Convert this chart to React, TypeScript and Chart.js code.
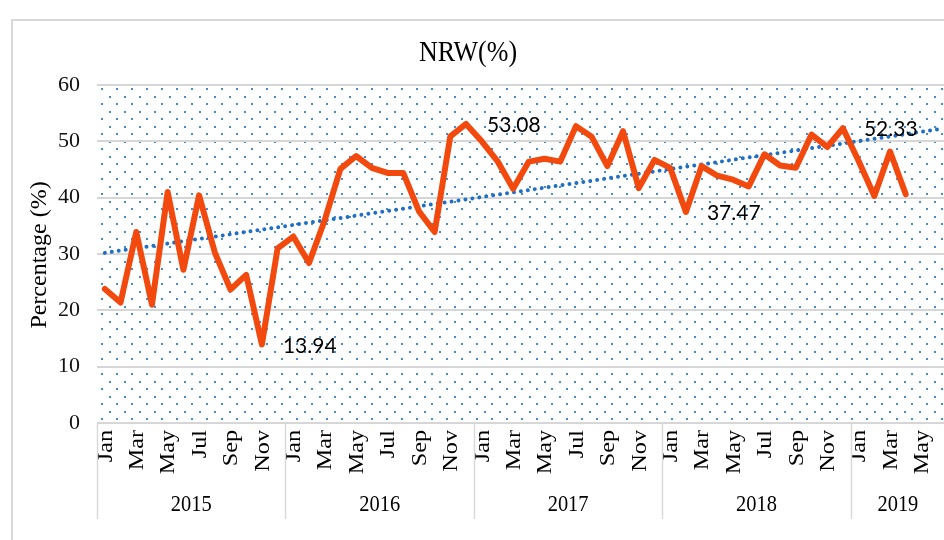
import React, { useEffect, useRef } from 'react';
import { Chart, registerables } from 'chart.js';

Chart.register(...registerables);

// ---- data ----
const months = ['Jan', 'Feb', 'Mar', 'Apr', 'May', 'Jun', 'Jul', 'Aug', 'Sep', 'Oct', 'Nov', 'Dec'];
const years = ['2015', '2016', '2017', '2018', '2019'];
const monthsOnAxisPerYear = [12, 12, 12, 12, 6];

const nrw2015 = [23.8, 21.4, 33.9, 21.0, 41.0, 27.2, 40.4, 30.3, 23.7, 26.3, 13.94, 31.0];
const nrw2016 = [33.1, 28.4, 36.0, 45.1, 47.4, 45.3, 44.4, 44.4, 37.6, 33.9, 50.9, 53.08];
const nrw2017 = [50.0, 46.5, 41.6, 46.4, 46.9, 46.4, 52.7, 50.8, 45.6, 51.8, 41.7, 46.7];
const nrw2018 = [45.3, 37.47, 45.6, 43.9, 43.2, 42.0, 47.7, 45.7, 45.3, 51.2, 49.0, 52.33];
const nrw2019 = [46.5, 40.3, 48.2, 40.6];

const labelledValues = [13.94, 53.08, 37.47, 52.33];
const trendStart = 30.2;
const trendEnd = 52.1;

const chartTitle = 'NRW(%)';
const yAxisTitle = 'Percentage (%)';
const yMin = 0;
const yMax = 60;
const yStep = 10;

// ---- derived structures ----
const categories: string[] = [];
years.forEach((yr, yi) => {
  for (let m = 0; m < monthsOnAxisPerYear[yi]; m++) {
    categories.push(`${months[m]} ${yr}`);
  }
});
const nrw = [...nrw2015, ...nrw2016, ...nrw2017, ...nrw2018, ...nrw2019];
const trend: (number | null)[] = categories.map(() => null);
trend[0] = trendStart;
trend[categories.length - 1] = trendEnd;

const SERIF = '"Liberation Serif", "Times New Roman", serif';

function drawText(
  ctx: CanvasRenderingContext2D,
  text: string,
  x: number,
  y: number,
  opts: { rot?: number; sx?: number; sy?: number; align?: CanvasTextAlign; baseline?: CanvasTextBaseline }
) {
  ctx.save();
  ctx.translate(x, y);
  if (opts.rot) ctx.rotate(opts.rot);
  ctx.scale(opts.sx ?? 1, opts.sy ?? 1);
  ctx.textAlign = opts.align ?? 'center';
  ctx.textBaseline = opts.baseline ?? 'middle';
  ctx.fillText(text, 0, 0);
  ctx.restore();
}

const decorPlugin = {
  id: 'decor',
  beforeDraw(chart: any) {
    const { ctx, chartArea: a } = chart;
    ctx.save();
    // outer frame (cropped on right / bottom)
    ctx.strokeStyle = '#d9d9d9';
    ctx.lineWidth = 2;
    ctx.beginPath();
    ctx.moveTo(12, chart.height + 10);
    ctx.lineTo(12, 20);
    ctx.lineTo(chart.width + 10, 20);
    ctx.stroke();
    // dotted pattern fill
    ctx.beginPath();
    ctx.rect(a.left, a.top, a.right - a.left, a.bottom - a.top);
    ctx.clip();
    ctx.fillStyle = '#4a8bcd';
    let row = 0;
    for (let y = a.top + 4; y < a.bottom; y += 7.5, row++) {
      const off = row % 2 ? 7.5 : 0;
      for (let x = a.left + 5 + off; x < a.right; x += 15) {
        ctx.fillRect(Math.round(x) - 1, Math.round(y) - 1, 2, 2);
      }
    }
    ctx.restore();
  },
  afterDraw(chart: any) {
    const { ctx, chartArea: a } = chart;
    const xs = chart.scales.x;
    const step = (a.right - a.left) / categories.length;
    ctx.save();
    ctx.fillStyle = '#000';
    // title
    ctx.font = `26px ${SERIF}`;
    drawText(ctx, chartTitle, 468, 53, { sy: 1.15 });
    // y axis title
    ctx.font = `24px ${SERIF}`;
    drawText(ctx, yAxisTitle, 40, (a.top + a.bottom) / 2 + 1, { rot: -Math.PI / 2 });
    // month labels (every other)
    ctx.font = `22px ${SERIF}`;
    categories.forEach((c, i) => {
      const mIdx = months.indexOf(c.split(' ')[0]);
      if (mIdx % 2 !== 0) return;
      const x = xs.getPixelForValue(i);
      drawText(ctx, months[mIdx], x + 1, a.bottom + 7, { rot: -Math.PI / 2, sx: 1.1, align: 'right' });
    });
    // year groups
    ctx.strokeStyle = '#d9d9d9';
    ctx.lineWidth = 1.5;
    ctx.font = `22px ${SERIF}`;
    let start = 0;
    years.forEach((yr, yi) => {
      const n = monthsOnAxisPerYear[yi];
      const x0 = a.left + start * step;
      const x1 = a.left + (start + n) * step;
      ctx.beginPath();
      ctx.moveTo(Math.round(x0) + 0.5, a.bottom);
      ctx.lineTo(Math.round(x0) + 0.5, 519);
      ctx.stroke();
      drawText(ctx, yr, (x0 + x1) / 2, 505, { sx: 0.93, sy: 1.08 });
      start += n;
    });
    // data labels
    const meta = chart.getDatasetMeta(0);
    ctx.font = '21px Lato, "Open Sans", sans-serif';
    labelledValues.forEach((v) => {
      const i = nrw.indexOf(v);
      if (i < 0) return;
      const p = meta.data[i];
      drawText(ctx, v.toFixed(2), p.x + 21, p.y + 1, { align: 'left', sy: 1.05 });
    });
    ctx.restore();
  },
};

export default function App() {
  const ref = useRef<HTMLCanvasElement | null>(null);
  useEffect(() => {
    if (!ref.current) return;
    const chart = new Chart(ref.current, {
      type: 'line',
      data: {
        labels: categories,
        datasets: [
          {
            label: 'NRW(%)',
            data: nrw,
            borderColor: 'rgb(242,74,14)',
            borderWidth: 6,
            borderJoinStyle: 'round',
            borderCapStyle: 'round',
            pointRadius: 0,
            fill: false,
            tension: 0,
          },
          {
            label: 'Trend',
            data: trend,
            spanGaps: true,
            borderColor: '#1f6fc5',
            borderWidth: 4,
            borderDash: [0.01, 7],
            borderCapStyle: 'round',
            pointRadius: 0,
            fill: false,
          },
        ],
      },
      options: {
        responsive: false,
        animation: false,
        devicePixelRatio: 1,
        layout: { padding: { left: 0, right: 0, top: 85, bottom: 0 } },
        plugins: {
          legend: { display: false },
          title: { display: false },
          tooltip: { enabled: false },
        },
        scales: {
          x: {
            type: 'category',
            offset: true,
            grid: { display: false },
            border: { display: false },
            ticks: { display: false },
            afterFit: (s: any) => {
              s.height = 117;
              s.paddingLeft = 0;
              s.paddingRight = 0;
            },
          },
          y: {
            min: yMin,
            max: yMax,
            ticks: {
              stepSize: yStep,
              font: { family: SERIF, size: 22 },
              color: '#111',
              padding: 17,
            },
            grid: { color: '#d6d6d6', lineWidth: 2, drawTicks: false },
            border: { display: false },
            afterFit: (s: any) => {
              s.width = 97;
              s.paddingTop = 0;
              s.paddingBottom = 0;
            },
          },
        },
      },
      plugins: [decorPlugin],
    } as any);
    return () => chart.destroy();
  }, []);
  return (
    <div
      style={{
        position: 'fixed',
        left: 0,
        top: 0,
        width: 944,
        height: 540,
        overflow: 'hidden',
        background: '#fff',
      }}
    >
      <canvas ref={ref} width={945} height={540} style={{ width: 945, height: 540, display: 'block' }} />
    </div>
  );
}
